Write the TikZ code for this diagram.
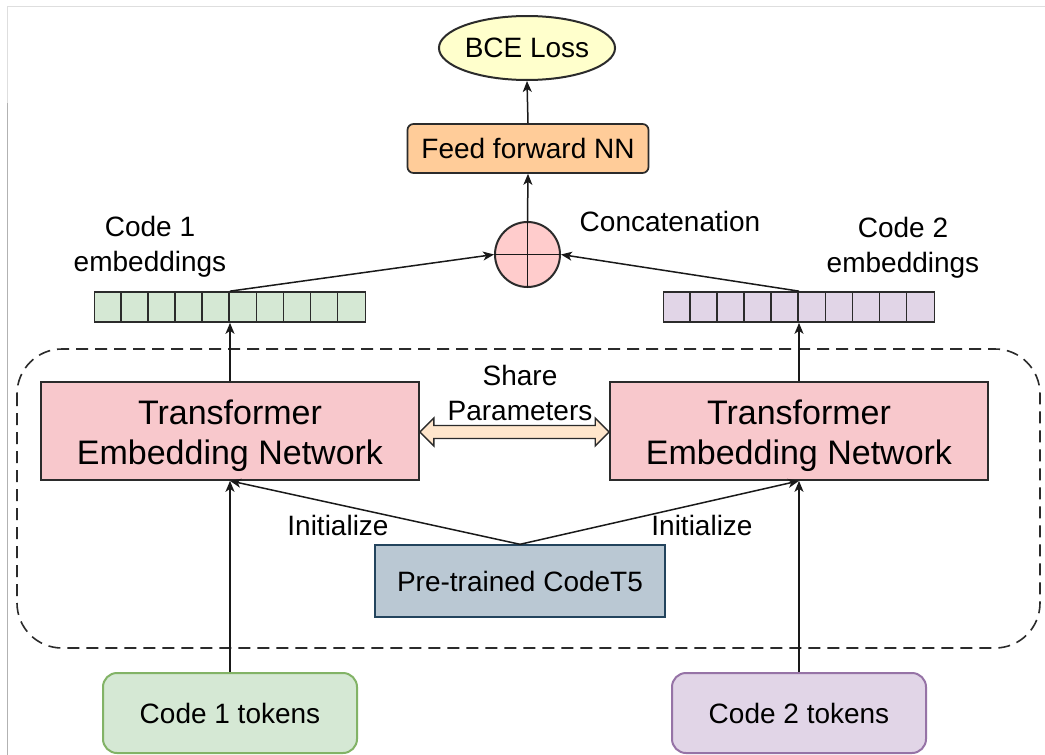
\documentclass[tikz,border=0pt]{standalone}
\usepackage{fontspec}
\setmainfont{Liberation Sans}
\usetikzlibrary{arrows.meta,shapes.geometric,calc}
\definecolor{bceY}{HTML}{FFFFCC}
\definecolor{ffnnO}{HTML}{FFCC99}
\definecolor{catP}{HTML}{FFCCCC}
\definecolor{embG}{HTML}{D5E8D4}
\definecolor{embV}{HTML}{E1D5E7}
\definecolor{trP}{HTML}{F8C8CC}
\definecolor{shareO}{HTML}{FFE6CC}
\definecolor{ctFill}{HTML}{BAC8D3}
\definecolor{ctLine}{HTML}{23445D}
\definecolor{gLine}{HTML}{82B366}
\definecolor{vLine}{HTML}{9673A6}
\definecolor{dk}{HTML}{2B2B2B}
\begin{document}
\begin{tikzpicture}[x=1pt,y=-1pt,
  lbl/.style={font=\fontsize{28}{35}\selectfont, inner sep=0pt, text=black},
  boxst/.style={draw=dk, line width=1.7pt, inner sep=0pt, align=center},
  arr/.style={-{Stealth[length=11pt,width=9pt,inset=3pt]}, line width=1.5pt, draw=black!90},
  plain/.style={line width=1.5pt, draw=black!90},
  embbar/.style={draw=dk, line width=1.7pt, minimum width=271pt, minimum height=30pt, inner sep=0pt},
  trbox/.style={boxst, fill=trP, minimum width=378pt, minimum height=98pt},
  trtext/.style={align=center, inner sep=0pt, text=black, font=\fontsize{34}{40}\selectfont}
]
\useasboundingbox (0,0) rectangle (1045,755);
\fill[white] (0,0) rectangle (1045,755);
% faint frame
\draw[black!13, line width=1pt] (7,6) -- (1045,6);
\draw[black!13, line width=1pt] (7,6) -- (7,103);
\draw[black!30, line width=1pt] (7,103) -- (7,755);

% dashed container
\draw[dk, line width=1.6pt, dash pattern=on 12pt off 7pt, rounded corners=45pt]
  (17,349) rectangle (1040,648);

% nodes
\node[ellipse, boxst, fill=bceY, line width=2pt, minimum width=164pt, minimum height=64pt, lbl] (bce) at (527,48) {BCE Loss};
\node[boxst, fill=ffnnO, rounded corners=6pt, minimum width=241pt, minimum height=49pt, lbl] (ffnn) at (528,148.5) {Feed forward NN};
\node[circle, draw=dk, fill=catP, line width=2pt, minimum size=65pt, inner sep=0pt] (cat) at (527.5,254.5) {};
\draw[plain] (cat.north) -- (cat.south);
\draw[plain] (cat.west) -- (cat.east);
\node[lbl] (catl) at (670,221) {Concatenation};

\node[embbar, fill=embG] (bar1) at (230,307) {};
\node[embbar, fill=embV] (bar2) at (799,307) {};
\foreach \b in {bar1,bar2}{
  \foreach \i in {1,...,9}{
    \draw[dk, line width=1.5pt] ([xshift=\i*27.1pt]\b.north west) -- ([xshift=\i*27.1pt]\b.south west);
  }
}
\node[lbl, align=center] (e1) at (150,247) {Code 1\\embeddings};
\node[lbl, align=center] (e2) at (903,248) {Code 2\\embeddings};

\node[trbox] (trL) at (230,431) {};
\node[trbox] (trR) at (799,431) {};
\node[trtext] (trLt) at ([yshift=-5pt]trL.center) {Transformer\\Embedding Network};
\node[trtext] (trRt) at ([yshift=-5pt]trR.center) {Transformer\\Embedding Network};

\node[lbl, align=center] (share) at (520,393) {Share\\Parameters};

\node[draw=ctLine, line width=1.4pt, fill=ctFill, minimum width=290pt, minimum height=72pt, inner sep=0pt, lbl] (ct5) at (520,581) {Pre-trained CodeT5};

\node[lbl] (init1) at (338,525) {Initialize};
\node[lbl] (init2) at (702,525) {Initialize};

\node[draw=gLine, line width=2pt, fill=embG, rounded corners=14pt, minimum width=254pt, minimum height=80pt, inner sep=0pt, lbl] (tok1) at (230,713) {Code 1 tokens};
\node[draw=vLine, line width=2pt, fill=embV, rounded corners=14pt, minimum width=254pt, minimum height=80pt, inner sep=0pt, lbl] (tok2) at (799,713) {Code 2 tokens};

% share parameters double arrow
\coordinate (sL) at ([yshift=-1pt]trL.east);
\coordinate (sR) at ([yshift=-1pt]trR.west);
\filldraw[fill=shareO, draw=dk, line width=1.3pt, line join=miter]
  (sL) -- ($(sL)+(14,-14)$) -- ($(sL)+(14,-6.5)$) -- ($(sR)+(-14,-6.5)$) -- ($(sR)+(-14,-14)$)
  -- (sR) -- ($(sR)+(-14,14)$) -- ($(sR)+(-14,6.5)$) -- ($(sL)+(14,6.5)$) -- ($(sL)+(14,14)$) -- cycle;

% connectors
\draw[arr] (ffnn.north) -- (bce.south);
\draw[arr] (cat.north) -- (ffnn.south);
\draw[arr] (bar1.north) -- (cat.west);
\draw[arr] (bar2.north) -- (cat.east);
\draw[arr] (trL.north) -- (bar1.south);
\draw[arr] (trR.north) -- (bar2.south);
\draw[arr] (tok1.north) -- (trL.south);
\draw[arr] (tok2.north) -- (trR.south);
\draw[arr] (ct5.north) -- (trL.south);
\draw[arr] (ct5.north) -- (trR.south);
\end{tikzpicture}
\end{document}
